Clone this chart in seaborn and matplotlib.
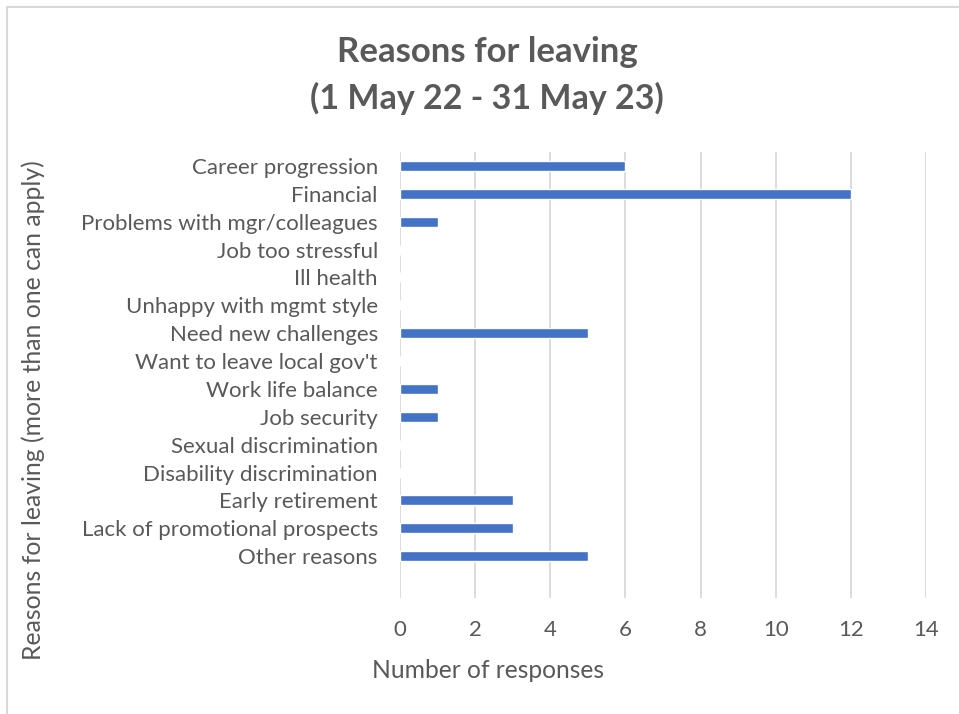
import matplotlib
matplotlib.use("Agg")
import matplotlib.pyplot as plt
import pandas as pd
import seaborn as sns
from matplotlib.lines import Line2D

# reasons, top to bottom as shown
reasons = [
    "Career progression",
    "Financial",
    "Problems with mgr/colleagues",
    "Job too stressful",
    "Ill health",
    "Unhappy with mgmt style",
    "Need new challenges",
    "Want to leave local gov't",
    "Work life balance",
    "Job security",
    "Sexual discrimination",
    "Disability discrimination",
    "Early retirement",
    "Lack of promotional prospects",
    "Other reasons",
]
responses = [6, 12, 1, 0, 0, 0, 5, 0, 1, 1, 0, 0, 3, 3, 5]
x_ticks = [0, 2, 4, 6, 8, 10, 12, 14]

sns.set_style("white")
plt.rcParams["font.family"] = ["Lato", "DejaVu Sans"]

texto = "#595959"
dados = pd.DataFrame({"reason": reasons, "n": responses})

fig = plt.figure(figsize=(9.59, 7.14), dpi=100)
ax = fig.add_axes([400 / 959, 1 - 598 / 714, 526 / 959, 446 / 714])

sns.barplot(data=dados, x="n", y="reason", orient="h", color="#4472C4",
            width=0.36, saturation=1, ax=ax)

ax.set_xlim(0, 14)
ax.set_ylim(15.5, -0.5)
ax.set_xticks(x_ticks)
ax.xaxis.grid(True, color="#d9d9d9", linewidth=1.3)
ax.set_axisbelow(True)
for s in ax.spines.values():
    s.set_visible(False)
ax.tick_params(axis="both", length=0, labelsize=16, labelcolor=texto)
ax.tick_params(axis="x", pad=16)
ax.tick_params(axis="y", pad=16)
ax.set_xlabel("")
ax.set_ylabel("")

fig.text(488 / 959, 1 - 670 / 714, "Number of responses", ha="center", va="center",
         fontsize=17.7, color=texto)
fig.text(33 / 959, 1 - 410 / 714, "Reasons for leaving (more than one can apply)",
         ha="center", va="center", rotation=90, fontsize=17.8, color=texto)
fig.text(487 / 959, 1 - 52 / 714, "Reasons for leaving", ha="center", va="center",
         fontsize=25, fontweight="bold", color=texto)
fig.text(487 / 959, 1 - 98 / 714, "(1 May 22 - 31 May 23)", ha="center", va="center",
         fontsize=24.5, fontweight="bold", color=texto)

# chart frame: only the top and left edges are visible in the crop
borda = "#d9d9d9"
fig.add_artist(Line2D([7 / 959, 1], [1 - 7 / 714, 1 - 7 / 714],
                      transform=fig.transFigure, color=borda, linewidth=1.5))
fig.add_artist(Line2D([7 / 959, 7 / 959], [0, 1 - 7 / 714],
                      transform=fig.transFigure, color=borda, linewidth=1.5))

fig.savefig("out.png", dpi=100, facecolor="white")
